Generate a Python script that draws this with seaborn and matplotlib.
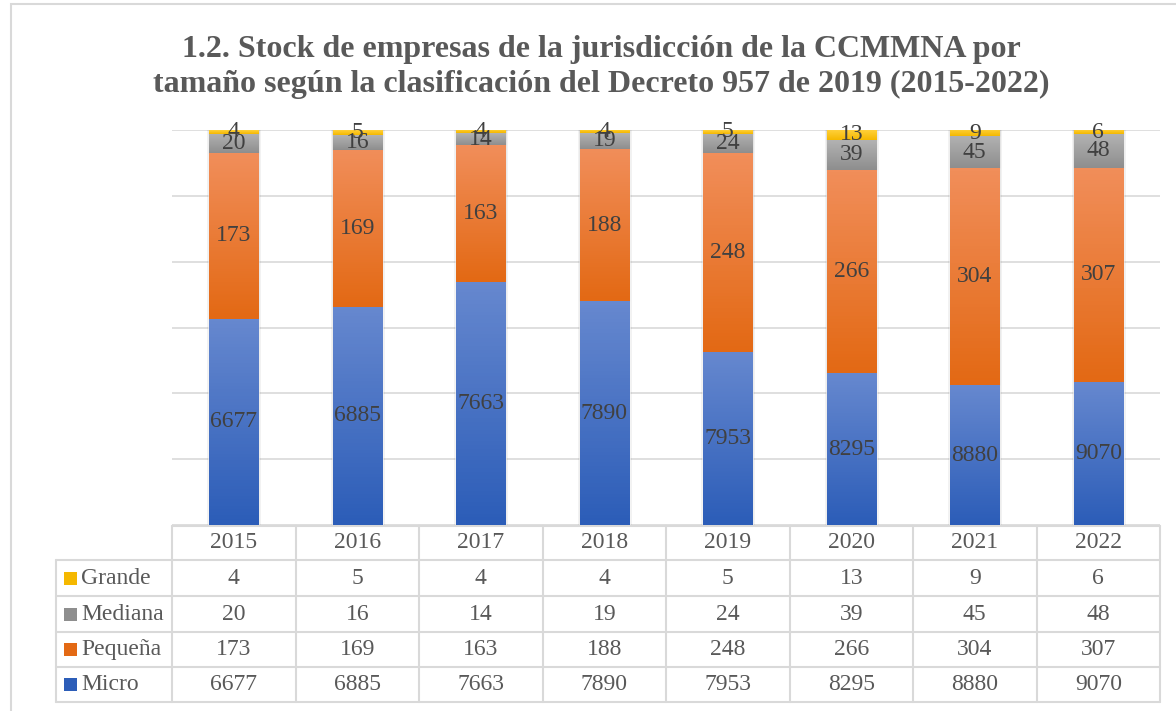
#!/usr/bin/env python3

import numpy as np
import pandas
import seaborn as sns
import matplotlib.pyplot as plt
from matplotlib.colors import LinearSegmentedColormap
from matplotlib.patches import Rectangle
from matplotlib.transforms import blended_transform_factory

years = ["2015", "2016", "2017", "2018", "2019", "2020", "2021", "2022"]
micro = [6677, 6885, 7663, 7890, 7953, 8295, 8880, 9070]
pequena = [173, 169, 163, 188, 248, 266, 304, 307]
mediana = [20, 16, 14, 19, 24, 39, 45, 48]
grande = [4, 5, 4, 4, 5, 13, 9, 6]

series_names = ["Micro", "Pequeña", "Mediana", "Grande"]
# (top colour, bottom colour) for the vertical gradient of each segment
series_colors = {
    "Micro": ("#6688cf", "#2c5db8"),
    "Pequeña": ("#f18e5a", "#e36914"),
    "Mediana": ("#b2b2b2", "#8e8e8e"),
    "Grande": ("#ffd03a", "#f5b800"),
}

W, H = 1176, 711
TEXT = "#404040"
GRID = "#d9d9d9"


def fy(py):
    """Pixel row (from the top) to figure fraction."""
    return 1 - py / H


def main():
    sns.set_style("white")
    plt.rcParams["font.family"] = ["Liberation Serif", "DejaVu Serif"]

    values = {
        "Micro": np.array(micro, float),
        "Pequeña": np.array(pequena, float),
        "Mediana": np.array(mediana, float),
        "Grande": np.array(grande, float),
    }
    total = sum(values.values())
    pct = {k: v / total * 100 for k, v in values.items()}

    # long frame with cumulative percentages (stack bottom -> top)
    rows = []
    cum = np.zeros(len(years))
    for name in series_names:
        lower = cum.copy()
        cum = cum + pct[name]
        for i, y in enumerate(years):
            rows.append([y, name, lower[i], cum[i], values[name][i]])
    df = pandas.DataFrame(rows, columns=["year", "size", "lower", "upper", "count"])

    fig = plt.figure(figsize=(W / 100, H / 100), dpi=100)
    ax = fig.add_axes([172 / W, fy(525), (1160 - 172) / W, (525 - 130) / H])

    # overlapping cumulative bars, tallest first
    for name in reversed(series_names):
        sub = df[df["size"] == name]
        sns.barplot(
            data=sub, x="year", y="upper", color=series_colors[name][1],
            width=0.4, ax=ax, order=years, zorder=2,
        )

    ymin, ymax = 94, 100

    # soft shadow behind each bar
    for i in range(len(years)):
        for k, a in enumerate([0.05, 0.05, 0.06]):
            pad = 0.018 - k * 0.006
            ax.add_patch(Rectangle((i - 0.2 - pad + 0.004, ymin), 0.4 + 2 * pad,
                                   ymax - ymin + pad * 2, facecolor="#000000",
                                   alpha=a, edgecolor="none", zorder=1.5))

    # gradient fill per segment + centred value labels
    for name in series_names:
        top_c, bot_c = series_colors[name]
        cmap = LinearSegmentedColormap.from_list(name, [bot_c, top_c])
        sub = df[df["size"] == name]
        for i, (_, r) in enumerate(sub.iterrows()):
            lo = max(r["lower"], ymin)
            hi = r["upper"]
            if hi <= lo:
                continue
            grad = np.linspace(0, 1, 64).reshape(-1, 1)
            ax.imshow(
                grad, cmap=cmap, origin="lower", aspect="auto",
                extent=(i - 0.2, i + 0.2, lo, hi), zorder=3,
            )
            ax.text(
                i, (lo + hi) / 2, f"{int(r['count'])}", ha="center", va="center",
                fontsize=17, color=TEXT, zorder=5,
            )

    ax.set_xlim(-0.5, len(years) - 0.5)
    ax.set_ylim(ymin, ymax)
    ax.set_yticks(np.arange(ymin, ymax + 1, 1))
    ax.yaxis.grid(True, color=GRID, linewidth=1.2, zorder=0)
    ax.set_axisbelow(True)
    ax.set_xticks([])
    ax.set_yticklabels([])
    ax.tick_params(left=False)
    ax.set_xlabel("")
    ax.set_ylabel("")
    for s in ax.spines.values():
        s.set_visible(False)

    # data table under the plot
    tr = blended_transform_factory(ax.transData, fig.transFigure)
    row_lines = [526, 560, 596, 632, 667, 702]
    lkw = dict(color=GRID, linewidth=1.5, clip_on=False)
    edges = np.arange(len(years) + 1) - 0.5
    ax.plot([edges[0], edges[-1]], [fy(row_lines[0])] * 2, transform=tr, **lkw)
    for py in row_lines[1:]:
        fig.add_artist(plt.Line2D([56 / W, 1160 / W], [fy(py)] * 2, **lkw))
    for e in edges:
        ax.plot([e, e], [fy(526), fy(702)], transform=tr, **lkw)
    fig.add_artist(plt.Line2D([56 / W, 56 / W], [fy(560), fy(702)], **lkw))

    for i, y in enumerate(years):
        ax.text(i, fy(543), y, transform=tr, ha="center", va="center",
                fontsize=17, color="#595959")

    table_order = ["Grande", "Mediana", "Pequeña", "Micro"]
    for j, name in enumerate(table_order):
        yc = (row_lines[j + 1] + row_lines[j + 2]) / 2
        fig.add_artist(Rectangle((64 / W, fy(yc + 6.5)), 13 / W, 13 / H,
                                 facecolor=series_colors[name][1], edgecolor="none"))
        fig.text(81 / W, fy(yc), name, ha="left", va="center",
                 fontsize=17, color="#595959")
        for i in range(len(years)):
            ax.text(i, fy(yc), f"{int(values[name][i])}", transform=tr,
                    ha="center", va="center", fontsize=17, color="#595959")

    # chart frame
    fig.add_artist(Rectangle((11 / W, -0.1), 2, fy(4) + 0.1, fill=False,
                             edgecolor=GRID, linewidth=1.5))

    tx = 601 / W
    fig.text(tx, fy(49), "1.2. Stock de empresas de la jurisdicción de la CCMMNA por",
             ha="center", va="center", fontsize=23, fontweight="bold", color="#595959")
    fig.text(tx, fy(84), "tamaño según la clasificación del Decreto 957 de 2019 (2015-2022)",
             ha="center", va="center", fontsize=23, fontweight="bold", color="#595959")

    fig.savefig("out.png", dpi=100)


if __name__ == "__main__":
    main()
